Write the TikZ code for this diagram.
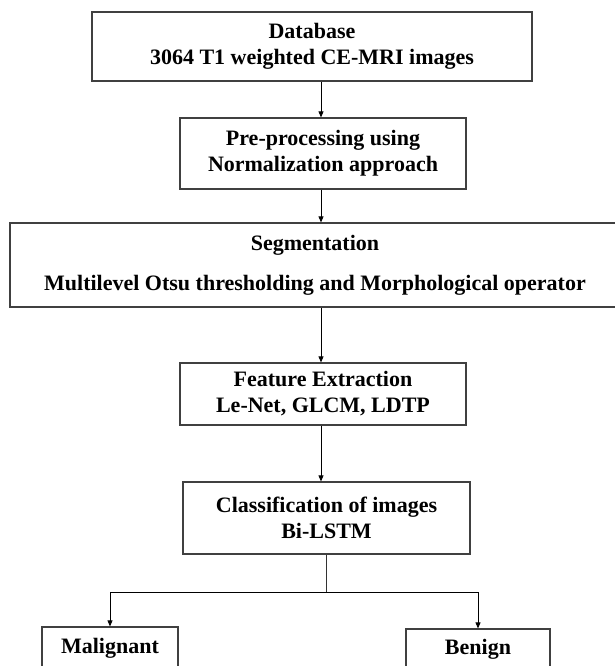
\documentclass[tikz,border=0pt]{standalone}
\usepackage{fontspec}
\setmainfont{Liberation Serif}
\usetikzlibrary{arrows.meta}
\tikzset{
  box/.style={draw=black!75, line width=1.2pt, inner sep=0pt, align=center,
    font=\bfseries\fontsize{22}{26}\selectfont},
  arr/.style={draw=black, line width=0.8pt, -{Triangle[length=6pt,width=5pt]}},
  ln/.style={draw=black!80, line width=0.8pt}
}
\begin{document}
\begin{tikzpicture}[x=1pt,y=-1pt]
\useasboundingbox (0,0) rectangle (614,666);
\fill[white] (0,0) rectangle (614,666);
\node[box, minimum width=440pt, minimum height=69pt] (db) at (312,46.5)
  {Database\\3064 T1 weighted CE-MRI images};
\node[box, minimum width=286pt, minimum height=71pt] (pre) at (323,153.5)
  {Pre-processing using\\Normalization approach};
\node[box, minimum width=610pt, minimum height=84pt] (seg) at (315,265)
  {Segmentation\\[14pt]Multilevel Otsu thresholding and Morphological operator};
\node[box, minimum width=286pt, minimum height=62pt] (fe) at (323,394)
  {Feature Extraction\\Le-Net, GLCM, LDTP};
\node[box, minimum width=287pt, minimum height=72pt] (cl) at (326.5,518)
  {Classification of images\\Bi-LSTM};
\node[box, minimum width=136pt, minimum height=42pt] (mal) at (110,648) {Malignant};
\node[box, minimum width=144pt, minimum height=40pt] (ben) at (478,649) {Benign};
\coordinate (ax) at (321,0);
\coordinate (br) at (326.5,592);
\draw[arr] (db.south -| ax) -- (pre.north -| ax);
\draw[arr] (pre.south -| ax) -- (seg.north -| ax);
\draw[arr] (seg.south -| ax) -- (fe.north -| ax);
\draw[arr] (fe.south -| ax) -- (cl.north -| ax);
\draw[ln] (cl.south) -- (br);
\draw[arr] (br) -| (mal.north);
\draw[arr] (br) -| (ben.north);
\end{tikzpicture}
\end{document}
